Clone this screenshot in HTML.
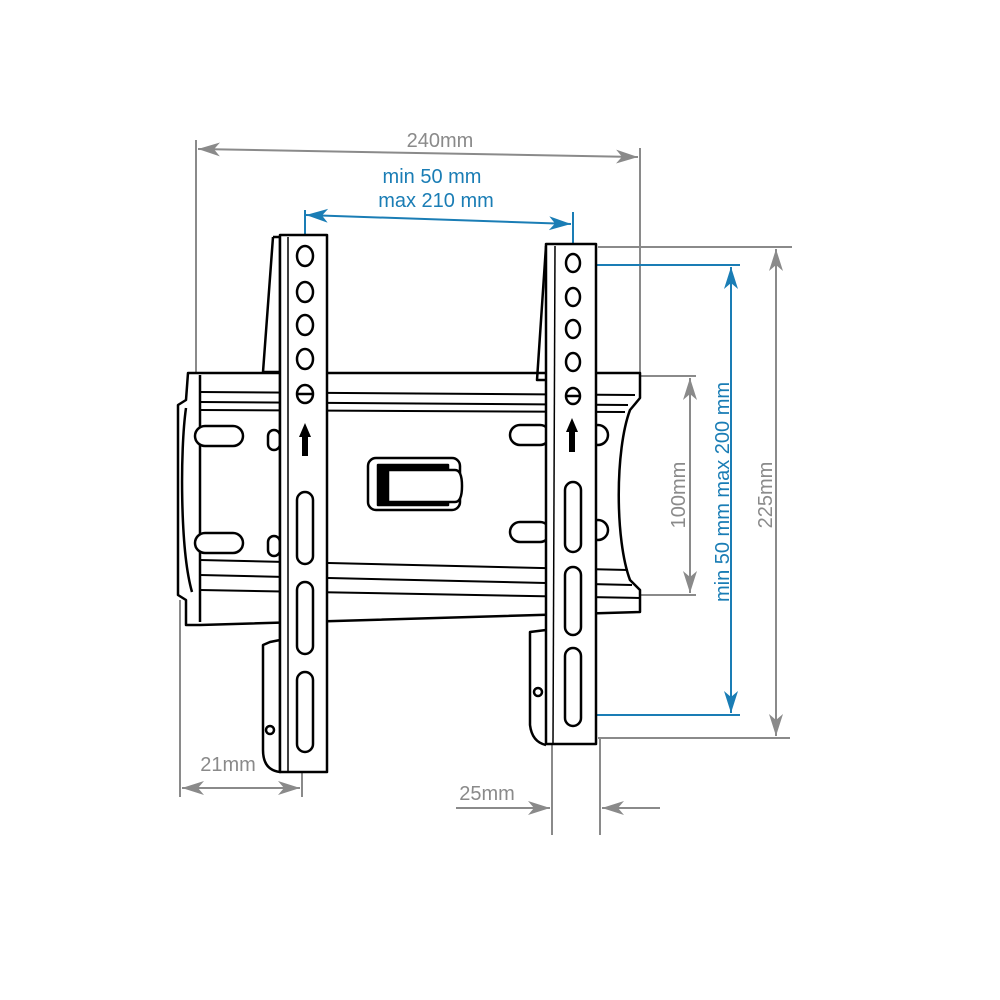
<!DOCTYPE html>
<html><head><style>body{margin:0;background:#fff}svg{display:block}</style></head><body>
<svg width="1000" height="1000" viewBox="0 0 1000 1000" xmlns="http://www.w3.org/2000/svg" font-family="Liberation Sans, sans-serif">
<defs>
<marker id="ag" viewBox="0 0 22 14" refX="22" refY="7" markerWidth="22" markerHeight="14" markerUnits="userSpaceOnUse" orient="auto-start-reverse"><path d="M0,0 L22,7 L0,14 L6,7 Z" fill="#8a8a8a"/></marker>
<marker id="ab" viewBox="0 0 22 14" refX="22" refY="7" markerWidth="22" markerHeight="14" markerUnits="userSpaceOnUse" orient="auto-start-reverse"><path d="M0,0 L22,7 L0,14 L6,7 Z" fill="#1a7db5"/></marker>
</defs>
<g stroke="#8a8a8a" stroke-width="2" fill="none">
<line x1="196" y1="140" x2="196" y2="376"/>
<line x1="640" y1="148" x2="640" y2="376"/>
<line x1="198" y1="149" x2="638" y2="157" marker-start="url(#ag)" marker-end="url(#ag)"/>
<line x1="598" y1="247" x2="792" y2="247"/>
<line x1="598" y1="738" x2="790" y2="738"/>
<line x1="776" y1="249" x2="776" y2="736" marker-start="url(#ag)" marker-end="url(#ag)"/>
<line x1="640" y1="376" x2="696" y2="376"/>
<line x1="636" y1="595" x2="696" y2="595"/>
<line x1="690" y1="378" x2="690" y2="593" marker-start="url(#ag)" marker-end="url(#ag)"/>
<line x1="180" y1="600" x2="180" y2="797"/>
<line x1="302" y1="745" x2="302" y2="797"/>
<line x1="182" y1="788" x2="300" y2="788" marker-start="url(#ag)" marker-end="url(#ag)"/>
<line x1="552" y1="742" x2="552" y2="835"/>
<line x1="600" y1="738" x2="600" y2="835"/>
<line x1="456" y1="808" x2="550" y2="808" marker-end="url(#ag)"/>
<line x1="660" y1="808" x2="602" y2="808" marker-end="url(#ag)"/>
</g>
<g fill="#8a8a8a" font-size="20">
<text x="440" y="147" text-anchor="middle">240mm</text>
<text x="228" y="771" text-anchor="middle">21mm</text>
<text x="487" y="800" text-anchor="middle">25mm</text>
<text transform="translate(685,495) rotate(-90)" text-anchor="middle">100mm</text>
<text transform="translate(772,495) rotate(-90)" text-anchor="middle">225mm</text>
</g>
<g stroke="#1a7db5" stroke-width="2" fill="none">
<line x1="305" y1="210" x2="305" y2="256"/>
<line x1="573" y1="212" x2="573" y2="264"/>
<line x1="306" y1="215" x2="571" y2="224" marker-start="url(#ab)" marker-end="url(#ab)"/>
<line x1="578" y1="265" x2="740" y2="265"/>
<line x1="570" y1="715" x2="740" y2="715"/>
<line x1="731" y1="267" x2="731" y2="713" marker-start="url(#ab)" marker-end="url(#ab)"/>
</g>
<g fill="#1a7db5" font-size="20">
<text x="432" y="183" text-anchor="middle">min 50 mm</text>
<text x="436" y="207" text-anchor="middle">max 210 mm</text>
<text transform="translate(729,492) rotate(-90)" text-anchor="middle">min 50 mm max 200 mm</text>
</g>
<g stroke="#000" stroke-width="2.5" fill="#fff" stroke-linejoin="round">
<path d="M188,373 L640,373 L640,398 L630,410 C615,450 615,540 630,580 L640,590 L640,612 L200,625 L186,625 L186,600 L178,595 L178,405 L186,400 Z"/>
<path d="M200,375 L200,622" fill="none"/>
<path d="M186,408 C180,450 180,550 192,592" fill="none"/>
<path d="M200,392 L635,395 M200,402 L628,405 M200,410 L625,412" fill="none" stroke-width="2"/>
<path d="M200,560 L628,570 M200,575 L632,585 M200,590 L640,598" fill="none" stroke-width="2"/>
<rect x="195" y="426" width="48" height="20" rx="10"/>
<rect x="195" y="533" width="48" height="20" rx="10"/>
<rect x="510" y="425" width="40" height="20" rx="10"/>
<rect x="510" y="522" width="40" height="20" rx="10"/>
<rect x="588" y="425" width="20" height="20" rx="10"/>
<rect x="588" y="520" width="20" height="20" rx="10"/>
<rect x="268" y="430" width="12" height="20" rx="6"/>
<rect x="268" y="536" width="12" height="20" rx="6"/>
<rect x="368" y="458" width="92" height="52" rx="8"/>
<rect x="378" y="465" width="70" height="40" fill="#000"/>
<path d="M388,470 L455,470 Q462,470 462,486 Q462,502 455,502 L388,502 Z"/>
<path d="M273,237 L280,237 L280,640 L270,642 L263,645 L263,750 Q263,770 280,772 L280,237" />
<path d="M273,237 L263,372 L280,372" fill="none"/>
<rect x="280" y="235" width="47" height="537"/>
<line x1="288" y1="237" x2="288" y2="771" stroke-width="1.5"/>
<path d="M546,246 L537,380 L546,380" fill="none"/>
<path d="M546,630 L530,632 L530,725 Q532,742 546,745"/>
<rect x="546" y="244" width="50" height="500"/>
<line x1="555" y1="246" x2="553" y2="743" stroke-width="1.5"/>
</g>
<g stroke="#000" stroke-width="2.5" fill="#fff">
<ellipse cx="305" cy="256" rx="8" ry="10"/><ellipse cx="305" cy="292" rx="8" ry="10"/><ellipse cx="305" cy="325" rx="8" ry="10"/><ellipse cx="305" cy="359" rx="8" ry="10"/><ellipse cx="305" cy="394" rx="8" ry="9"/>
<line x1="297" y1="394" x2="313" y2="394"/>
<rect x="297" y="492" width="16" height="72" rx="8"/>
<rect x="297" y="582" width="16" height="72" rx="8"/>
<rect x="297" y="672" width="16" height="80" rx="8"/>
<ellipse cx="573" cy="263" rx="7" ry="9"/><ellipse cx="573" cy="297" rx="7" ry="9"/><ellipse cx="573" cy="329" rx="7" ry="9"/><ellipse cx="573" cy="362" rx="7" ry="9"/><ellipse cx="573" cy="396" rx="7" ry="8"/>
<line x1="566" y1="396" x2="580" y2="396"/>
<rect x="565" y="482" width="16" height="70" rx="8"/>
<rect x="565" y="567" width="16" height="68" rx="8"/>
<rect x="565" y="648" width="16" height="78" rx="8"/>
<circle cx="270" cy="730" r="4"/><circle cx="538" cy="692" r="4"/>
</g>
<g fill="#000">
<path d="M305,423 L299,437 L302,437 L302,456 L308,456 L308,437 L311,437 Z"/>
<path d="M572,418 L566,432 L569,432 L569,452 L575,452 L575,432 L578,432 Z"/>
</g>
</svg>
</body></html>
